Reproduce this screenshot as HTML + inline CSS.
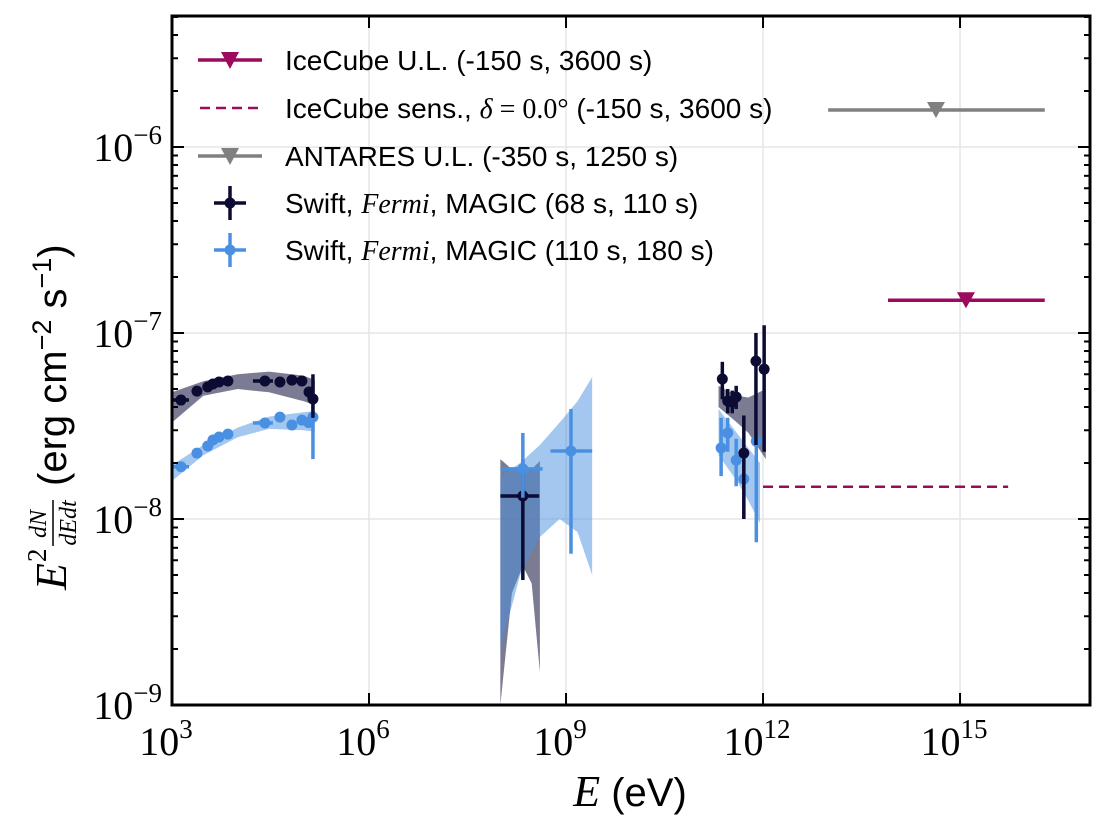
<!DOCTYPE html>
<html><head><meta charset="utf-8">
<style>
body{margin:0;background:#fff;}
svg text{font-family:"Liberation Sans",sans-serif;}
.serif{font-family:"Liberation Serif",serif;}
</style></head>
<body>
<svg id="chart" width="1110" height="828" xmlns="http://www.w3.org/2000/svg"></svg>
<script>
// ---- data ----
const darkEarlyE=[1.37e3,2.4e3,3.5e3,4.2e3,5.2e3,7.1e3,2.6e4,4.4e4,6.7e4,9.5e4,1.22e5,1.4e5];
const darkEarlyF=[4.36e-8,4.87e-8,5.13e-8,5.32e-8,5.45e-8,5.52e-8,5.52e-8,5.45e-8,5.58e-8,5.52e-8,4.82e-8,4.42e-8];
const lightEarlyE=[1.37e3,2.4e3,3.5e3,4.2e3,5.2e3,7.1e3,2.6e4,4.4e4,6.7e4,9.5e4,1.2e5,1.4e5];
const lightEarlyF=[1.91e-8,2.26e-8,2.47e-8,2.66e-8,2.76e-8,2.86e-8,3.28e-8,3.53e-8,3.2e-8,3.4e-8,3.3e-8,3.53e-8];
const darkTeVE=[2.4e11,2.9e11,3.4e11,3.9e11,5.1e11,7.8e11,1.04e12];
const darkTeVF=[5.66e-8,4.31e-8,4.25e-8,4.53e-8,2.26e-8,7.06e-8,6.39e-8];
const darkTeVLo=[4.4e-8,3.7e-8,3.7e-8,3.9e-8,1.0e-8,2.5e-8,2.3e-8];
const darkTeVHi=[7.0e-8,5.0e-8,4.9e-8,5.2e-8,3.6e-8,1.0e-7,1.1e-7];
const lightTeVE=[2.3e11,2.9e11,3.9e11,5.1e11,7.9e11];
const lightTeVF=[2.41e-8,2.9e-8,2.07e-8,1.64e-8,2.62e-8];
const lightTeVLo=[1.7e-8,2.3e-8,1.5e-8,1.0e-8,7.5e-9];
const lightTeVHi=[3.5e-8,3.5e-8,2.7e-8,2.3e-8,4.3e-8];
const darkGeVE=[2.2e8], darkGeVF=[1.33e-8], darkGeVElo=[1.0e8], darkGeVEhi=[3.9e8], darkGeVLo=[4.7e-9], darkGeVHi=[2.1e-8];
const lightGeVE=[2.2e8,1.19e9], lightGeVF=[1.86e-8,2.32e-8], lightGeVElo=[1.0e8,5.8e8], lightGeVEhi=[4.4e8,2.5e9], lightGeVLo=[1.3e-8,6.5e-9], lightGeVHi=[2.9e-8,3.9e-8];
const darkBandE=[1e3,3e3,1e4,3e4,1e5,1.5e5];
const darkBandHi=[4.8e-8,5.5e-8,6.0e-8,6.2e-8,5.9e-8,5.6e-8];
const darkBandLo=[3.3e-8,4.6e-8,5.0e-8,4.8e-8,4.3e-8,4.1e-8];
const lightBandE=[1e3,3e3,1e4,3e4,1e5,1.5e5];
const lightBandHi=[1.95e-8,2.5e-8,3.1e-8,3.55e-8,3.75e-8,3.8e-8];
const lightBandLo=[1.6e-8,2.2e-8,2.75e-8,3.05e-8,3.0e-8,2.95e-8];
const darkGBandE=[1e8,1.5e8,2.2e8,3e8,4e8];
const darkGBandHi=[2.1e-8,1.85e-8,1.9e-8,1.85e-8,2.05e-8];
const darkGBandLo=[1.0e-9,4.0e-9,5.6e-9,4.5e-9,1.5e-9];
const lightGBandE=[1e8,2e8,4e8,8e8,1.5e9,2.5e9];
const lightGBandHi=[1.7e-8,2.0e-8,2.5e-8,3.3e-8,4.3e-8,5.8e-8];
const lightGBandLo=[2.0e-9,5.0e-9,8.0e-9,1.0e-8,8.5e-9,5.0e-9];
const darkTBandE=[2.1e11,4e11,6e11,1.1e12];
const darkTBandHi=[5.2e-8,4.6e-8,4.5e-8,5.0e-8];
const darkTBandLo=[4.0e-8,3.3e-8,2.9e-8,2.1e-8];
const lightTBandE=[2.1e11,4e11,6e11,9e11];
const lightTBandHi=[3.9e-8,2.9e-8,2.4e-8,2.0e-8];
const lightTBandLo=[2.2e-8,1.6e-8,1.25e-8,9.5e-9];
const iceULE=[8e13,1.23e15,1.95e16], iceULF=[1.5e-7];
const antULE=[9.8e12,4.3e14,1.95e16], antULF=[1.58e-6];
const iceSensE=[1e12,5.4e15], iceSensF=[1.49e-8];
const xTicks=[3,6,9,12,15], yTicks=[-9,-8,-7,-6];

// ---- axes ----
const X0=172,X1=1090,Y0=16,Y1=705;
const lx0=3,lx1=3+(X1-X0)/65.67, ly0=-9, ly1=-9+(Y1-Y0)/186;
const sx=e=>X0+(Math.log10(e)-lx0)/(lx1-lx0)*(X1-X0);
const sy=f=>Y1-(Math.log10(f)-ly0)/(ly1-ly0)*(Y1-Y0);
const svg=document.getElementById('chart');
const NS='http://www.w3.org/2000/svg';
function mk(tag,attrs,parent){const el=document.createElementNS(NS,tag);for(const k in attrs)el.setAttribute(k,attrs[k]);(parent||svg).appendChild(el);return el;}
const DARK='#0b0b33',LIGHT='#4a90e2',ICE='#9b0a5f',GRAY='#808080';

// grid
const grid=mk('g',{});


xTicks.forEach(t=>mk('line',{x1:X0+(t-lx0)*65.67,x2:X0+(t-lx0)*65.67,y1:Y0,y2:Y1,stroke:'#e6e6e6','stroke-width':1.5},grid));
yTicks.forEach(t=>mk('line',{x1:X0,x2:X1,y1:sy(Math.pow(10,t)),y2:sy(Math.pow(10,t)),stroke:'#e6e6e6','stroke-width':1.5},grid));

function band(E,hi,lo,color,op,name){
  let pts=E.map((e,i)=>sx(e)+','+sy(hi[i])).concat(E.map((e,i)=>sx(e)+','+sy(lo[i])).reverse());
  const p=mk('polygon',{points:pts.join(' '),fill:color,'fill-opacity':op});
  
  
}
band(darkBandE,darkBandHi,darkBandLo,'#5a5a78',0.8,'band-dark-xray');
band(lightBandE,lightBandHi,lightBandLo,LIGHT,0.5,'band-light-xray');
band(darkGBandE,darkGBandHi,darkGBandLo,'#5a5a78',0.8,'band-dark-gev');
band(lightGBandE,lightGBandHi,lightGBandLo,LIGHT,0.5,'band-light-gev');
band(darkTBandE,darkTBandHi,darkTBandLo,'#5a5a78',0.8,'band-dark-tev');
band(lightTBandE,lightTBandHi,lightTBandLo,LIGHT,0.5,'band-light-tev');

function pt(e,f,color,name){const c=mk('circle',{cx:sx(e),cy:sy(f),r:5.5,fill:color});
  
  }
function ebar(x1,y1,x2,y2,color){mk('line',{x1:x1,y1:y1,x2:x2,y2:y2,stroke:color,'stroke-width':3.5});}

lightEarlyE.forEach((e,i)=>{ if(i==lightEarlyE.length-1) ebar(sx(e),sy(2.1e-8),sx(e),sy(4.1e-8),LIGHT);
  if(i==0) ebar(sx(e)-8,sy(lightEarlyF[i]),sx(e)+8,sy(lightEarlyF[i]),LIGHT);
  if(i==6) ebar(sx(e)-12,sy(lightEarlyF[i]),sx(e)+8,sy(lightEarlyF[i]),LIGHT);
  pt(e,lightEarlyF[i],LIGHT,'point-light-xray');});
darkEarlyE.forEach((e,i)=>{ if(i==darkEarlyE.length-1) ebar(sx(e),sy(3.5e-8),sx(e),sy(6.0e-8),DARK);
  if(i==6) ebar(sx(e)-12,sy(darkEarlyF[i]),sx(e)+8,sy(darkEarlyF[i]),DARK);
  if(i==0) ebar(sx(e)-8,sy(darkEarlyF[i]),sx(e)+8,sy(darkEarlyF[i]),DARK);
  pt(e,darkEarlyF[i],DARK,'point-dark-xray');});

darkGeVE.forEach((e,i)=>{ebar(sx(darkGeVElo[i]),sy(darkGeVF[i]),sx(darkGeVEhi[i]),sy(darkGeVF[i]),DARK);
  ebar(sx(e),sy(darkGeVLo[i]),sx(e),sy(darkGeVHi[i]),DARK);pt(e,darkGeVF[i],DARK,'point-dark-gev');});
lightGeVE.forEach((e,i)=>{ebar(sx(lightGeVElo[i]),sy(lightGeVF[i]),sx(lightGeVEhi[i]),sy(lightGeVF[i]),LIGHT);
  ebar(sx(e),sy(lightGeVLo[i]),sx(e),sy(lightGeVHi[i]),LIGHT);pt(e,lightGeVF[i],LIGHT,'point-light-gev');});
lightTeVE.forEach((e,i)=>{ebar(sx(e),sy(lightTeVLo[i]),sx(e),sy(lightTeVHi[i]),LIGHT);pt(e,lightTeVF[i],LIGHT,'point-light-tev');});
darkTeVE.forEach((e,i)=>{ebar(sx(e),sy(darkTeVLo[i]),sx(e),sy(darkTeVHi[i]),DARK);pt(e,darkTeVF[i],DARK,'point-dark-tev');});

function ul(E,F,color,name){
  const g=mk('g',{});
  
  
  const y=sy(F[0]);
  mk('line',{x1:sx(E[0]),x2:sx(E[2]),y1:y,y2:y,stroke:color,'stroke-width':3.5},g);
  const x=sx(E[1]);
  mk('polygon',{points:`${x-9},${y-8} ${x+9},${y-8} ${x},${y+8}`,fill:color},g);
}
ul(iceULE,iceULF,ICE,'icecube-upper-limit');
ul(antULE,antULF,GRAY,'antares-upper-limit');
const sens=mk('line',{x1:sx(iceSensE[0]),x2:sx(iceSensE[1]),y1:sy(iceSensF[0]),y2:sy(iceSensF[0]),stroke:ICE,'stroke-width':2.5,'stroke-dasharray':'10,6'});



// frame & ticks
const frame=mk('rect',{x:X0,y:Y0,width:X1-X0,height:Y1-Y0,fill:'none',stroke:'#000','stroke-width':3});


xTicks.forEach(t=>{const x=X0+(t-lx0)*65.67;
  mk('line',{x1:x,x2:x,y1:Y1,y2:Y1-12,stroke:'#000','stroke-width':2});
  mk('line',{x1:x,x2:x,y1:Y0,y2:Y0+12,stroke:'#000','stroke-width':2});
  const tx=mk('text',{x:x-6,y:Y1+50,'text-anchor':'middle','font-size':40,class:'serif'});
  
  
  tx.innerHTML=`10<tspan dy="-17" font-size="27">${t}</tspan>`;});
for(let d=-9;d<=-6;d++){for(let m=1;m<10;m++){const f=m*Math.pow(10,d);const y=sy(f);if(y<Y0)break;
  const len=m==1?12:6;
  mk('line',{x1:X0,x2:X0+len,y1:y,y2:y,stroke:'#000','stroke-width':2});
  mk('line',{x1:X1,x2:X1-len,y1:y,y2:y,stroke:'#000','stroke-width':2});}}
yTicks.forEach(t=>{const y=sy(Math.pow(10,t));
  const tx=mk('text',{x:X0-10,y:y+14,'text-anchor':'end','font-size':40,class:'serif'});
  
  
  tx.innerHTML=`10<tspan dy="-17" font-size="27">−${-t}</tspan>`;});

// axis titles
const xt=mk('text',{x:630,y:806,'text-anchor':'middle','font-size':40});


xt.innerHTML='<tspan class="serif" font-style="italic" font-size="44">E</tspan> (eV)';
const yg=mk('g',{transform:'translate(54,372) rotate(-90)'});


mk('text',{x:-218,y:12,'font-size':44,class:'serif','font-style':'italic'},yg).textContent='E';
mk('text',{x:-190,y:-8,'font-size':27,class:'serif'},yg).textContent='2';
mk('text',{x:-152,y:-8,'font-size':24,class:'serif','font-style':'italic','text-anchor':'middle'},yg).textContent='dN';
mk('line',{x1:-174,x2:-128,y1:-1,y2:-1,stroke:'#000','stroke-width':1.5},yg);
mk('text',{x:-151,y:22,'font-size':24,class:'serif','font-style':'italic','text-anchor':'middle'},yg).textContent='dEdt';
const yl=mk('text',{x:-114,y:12,'font-size':40},yg);
yl.innerHTML='(erg cm<tspan dy="-15" font-size="27">−2</tspan><tspan dy="15"> s</tspan><tspan dy="-15" font-size="27">−1</tspan><tspan dy="15">)</tspan>';

// legend
const leg=mk('g',{});


const rows=[60,108,156,203,250];
const labels=['IceCube U.L. (-150 s, 3600 s)',
 'IceCube sens., <tspan class="serif" font-style="italic">δ</tspan><tspan class="serif"> = 0.0°</tspan> (-150 s, 3600 s)',
 'ANTARES U.L. (-350 s, 1250 s)',
 'Swift, <tspan class="serif" font-style="italic">Fermi</tspan>, MAGIC (68 s, 110 s)',
 'Swift, <tspan class="serif" font-style="italic">Fermi</tspan>, MAGIC (110 s, 180 s)'];
rows.forEach((y,i)=>{
  const e=mk('g',{},leg);
  
  
  if(i==0||i==2){const c=i==0?ICE:GRAY;
    mk('line',{x1:198,x2:262,y1:y,y2:y,stroke:c,'stroke-width':3.5},e);
    mk('polygon',{points:`221,${y-8} 239,${y-8} 230,${y+9}`,fill:c},e);}
  if(i==1) mk('line',{x1:200,x2:262,y1:y,y2:y,stroke:ICE,'stroke-width':2.5,'stroke-dasharray':'10,6'},e);
  if(i>=3){const c=i==3?DARK:LIGHT;
    mk('line',{x1:214,x2:246,y1:y,y2:y,stroke:c,'stroke-width':3.5},e);
    mk('line',{x1:230,x2:230,y1:y-17,y2:y+17,stroke:c,'stroke-width':3.5},e);
    mk('circle',{cx:230,cy:y,r:5.5,fill:c},e);}
  const t=mk('text',{x:285,y:y+10,'font-size':28},e);
  t.innerHTML=labels[i];
});
</script>
</body></html>
